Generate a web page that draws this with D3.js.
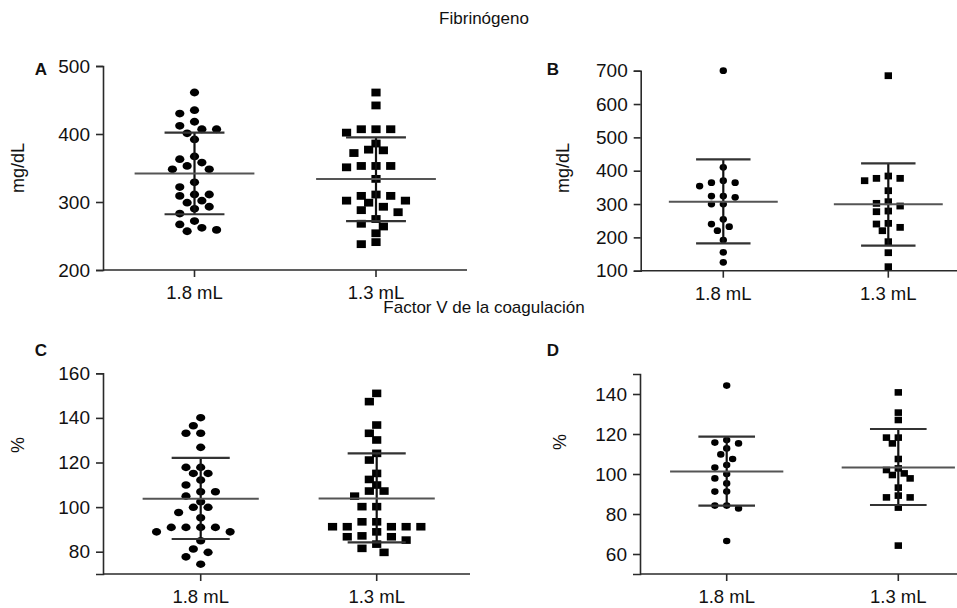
<!DOCTYPE html>
<html><head><meta charset="utf-8">
<script src="https://cdn.jsdelivr.net/npm/d3@7"></script>
<style>
body{margin:0;background:#fff;}
svg{display:block;}
text{font-family:"Liberation Sans",Arial,sans-serif;fill:#111;}
</style></head><body>
<svg id="c" width="957" height="608"></svg>
<script>
// ---------- data ----------
const categories = ["1.8 mL", "1.3 mL"];
const sectionTitles = ["Fibrinógeno", "Factor V de la coagulación"];
const panelLetters = ["A", "B", "C", "D"];
const yLabels = ["mg/dL", "mg/dL", "%", "%"];

const ticksA = [200, 300, 400, 500];
const ticksB = [100, 200, 300, 400, 500, 600, 700];
const ticksC = [80, 100, 120, 140, 160];
const ticksD = [60, 80, 100, 120, 140];

const fibA_18 = [461,430,435,418,407,412,407,401,392,363,367,353,358,348,348,329,322,311,309,311,299,302,290,293,283,272,267,262,257,259];
const fibA_13 = [461,442,407,407,402,407,386,372,377,376,353,351,353,353,334,302,309,309,311,299,302,293,285,288,275,268,254,264,238,241];
const fibB_18 = [700,410,364,354,364,370,324,320,324,300,300,254,240,220,232,192,155,125];
const fibB_13 = [685,377,384,370,377,340,302,279,277,294,307,240,220,230,242,187,154,112];
const fvC_18 = [140.1,136.5,133.1,133.1,126.8,117.8,117.8,115.1,115.1,112.1,109.9,106.9,106.9,104.9,102.4,99.9,99.9,97.6,95.2,90.9,90.9,90.9,90.9,88.9,88.9,84.9,79.7,81.2,77.7,74.4];
const fvC_13 = [151.0,147.3,136.8,133.1,130.1,124.1,121.1,115.1,112.4,109.9,107.2,107.2,104.9,100.2,100.2,93.4,93.4,91.2,91.2,91.2,91.2,91.2,88.9,87.1,86.7,86.7,83.4,85.2,81.5,79.7];
const fvD_18 = [144.2,117,115.7,112.8,115.3,109.8,107.5,104.5,103.2,100,97.8,95.3,91.2,91.2,84.2,82.8,84.2,66.5];
const fvD_13 = [140.8,130.7,127,118.2,118.2,115.3,107.5,102.8,102,100.3,97.8,99.5,93.2,89.2,88.3,88.3,83.2,64.2];

// mean and mean±SD lines  [1.8 mL, 1.3 mL]
const meanA = [342, 334], upperA = [402, 395], lowerA = [282, 272];
const meanB = [307, 299], upperB = [434, 422], lowerB = [182, 175];
const meanC = [103.7, 103.9], upperC = [122.1, 124.1], lowerC = [85.7, 84.2];
const meanD = [101.2, 103.3], upperD = [118.7, 122.5], lowerD = [84.2, 84.5];

// ---------- layout ----------
const panels = [
  {letter:0, ylab:0, groups:[fibA_18, fibA_13], mean:meanA, up:upperA, lo:lowerA, ticks:ticksA,
   yDomain:[200,500], yRange:[270,66], xAxis:[103,467], xPos:[194.5,376], r:[4.6,3.9],
   letterPos:[41,75], ylabPos:[18,168]},
  {letter:1, ylab:1, groups:[fibB_18, fibB_13], mean:meanB, up:upperB, lo:lowerB, ticks:ticksB,
   yDomain:[100,700], yRange:[270.7,70.7], xAxis:[640.7,957], xPos:[723.3,888.3], r:[3.7,3.4],
   letterPos:[553,75], ylabPos:[563,168]},
  {letter:2, ylab:2, groups:[fvC_18, fvC_13], mean:meanC, up:upperC, lo:lowerC, ticks:ticksC,
   yDomain:[70,160], yRange:[574,373.3], xAxis:[103,470], xPos:[200.7,376.7], r:[4.6,3.8],
   letterPos:[41,356], ylabPos:[18,445]},
  {letter:3, ylab:3, groups:[fvD_18, fvD_13], mean:meanD, up:upperD, lo:lowerD, ticks:ticksD,
   yDomain:[50,150], yRange:[574,374], xAxis:[640,957], xPos:[726.7,898.3], r:[3.7,3.3],
   letterPos:[553,356], ylabPos:[560,442]}
];

const svg = d3.select("#c");
const axisColor = "#2a2a2a";

// section titles
svg.append("text").attr("x", 484).attr("y", 24).attr("text-anchor","middle")
  .style("font-size","17px").text(sectionTitles[0]);
svg.append("text").attr("x", 484).attr("y", 313).attr("text-anchor","middle")
  .style("font-size","17px").text(sectionTitles[1]);

// simple beeswarm layout: greedy placement by value
function swarm(values, y, rx, ry) {
  const order = values.map((v,i)=>i).sort((a,b)=>values[b]-values[a]);
  const placed = [];
  const out = new Array(values.length);
  const step = rx * 1.6;
  for (const i of order) {
    const py = y(values[i]);
    let chosen = 0;
    for (let k = 0; k < 40; k++) {
      const cands = k === 0 ? [0] : [-k*step, k*step];
      let ok = null;
      for (const dx of cands) {
        const hit = placed.some(p => {
          const ddx = (p.dx - dx) / (2*rx*1.05), ddy = (p.py - py) / (2*ry*1.1);
          return ddx*ddx + ddy*ddy < 1;
        });
        if (!hit) { ok = dx; break; }
      }
      if (ok !== null) { chosen = ok; break; }
    }
    placed.push({dx:chosen, py});
    out[i] = {dx:chosen, py};
  }
  return out;
}

panels.forEach(p => {
  const g = svg.append("g");
  const y = d3.scaleLinear().domain(p.yDomain).range(p.yRange);
  const x = d3.scaleOrdinal().domain(categories).range(p.xPos);
  const step = p.xPos[1] - p.xPos[0];

  // y axis
  const yAxis = d3.axisLeft(y).tickValues(p.ticks).tickSize(7).tickPadding(6).tickFormat(d3.format("d"));
  const ya = g.append("g").attr("transform", `translate(${p.xAxis[0]},0)`).call(yAxis);
  ya.select(".domain").attr("stroke", axisColor).attr("stroke-width", 1.6);
  ya.selectAll(".tick line").attr("stroke", axisColor).attr("stroke-width", 1.6);
  ya.selectAll(".tick text").style("font-size","19px").attr("fill","#111")
    .style("font-family",'"Liberation Sans",Arial,sans-serif');

  // x axis line + ticks
  const yBase = p.yRange[0];
  g.append("line").attr("x1", p.xAxis[0]).attr("x2", p.xAxis[1]).attr("y1", yBase).attr("y2", yBase)
    .attr("stroke", axisColor).attr("stroke-width", 1.6);
  categories.forEach(c => {
    g.append("line").attr("x1", x(c)).attr("x2", x(c)).attr("y1", yBase).attr("y2", yBase + 7)
      .attr("stroke", axisColor).attr("stroke-width", 1.6);
    g.append("text").attr("x", x(c)).attr("y", yBase + 29).attr("text-anchor","middle")
      .style("font-size","18.5px").text(c);
  });

  // panel letter
  svg.append("text").attr("x", p.letterPos[0]).attr("y", p.letterPos[1]).attr("text-anchor","middle")
    .style("font-size","17px").style("font-weight","bold").text(panelLetters[p.letter]);
  // y label
  svg.append("text").attr("transform", `translate(${p.ylabPos[0]},${p.ylabPos[1]}) rotate(-90)`)
    .attr("text-anchor","middle").attr("dy","0.35em").style("font-size","18px").text(yLabels[p.ylab]);

  // points
  const [rx, ry] = p.r;
  p.groups.forEach((vals, gi) => {
    const cx = x(categories[gi]);
    const pos = swarm(vals, y, rx, ry);
    const sel = g.append("g").selectAll(gi === 0 ? "ellipse" : "rect").data(vals).join(gi === 0 ? "ellipse" : "rect");
    if (gi === 0) {
      sel.attr("cx", (d,i)=>cx + pos[i].dx).attr("cy", (d,i)=>pos[i].py).attr("rx", rx).attr("ry", ry).attr("fill","#000");
    } else {
      sel.attr("x", (d,i)=>cx + pos[i].dx - rx).attr("y", (d,i)=>pos[i].py - ry)
        .attr("width", 2*rx).attr("height", 2*ry).attr("fill","#000");
    }
    // mean and SD
    const mw = step * 0.33, cw = step * 0.165;
    g.append("line").attr("x1", cx).attr("x2", cx).attr("y1", y(p.up[gi])).attr("y2", y(p.lo[gi]))
      .attr("stroke","#111").attr("stroke-width", 2.2);
    g.append("line").attr("x1", cx - mw).attr("x2", cx + mw).attr("y1", y(p.mean[gi])).attr("y2", y(p.mean[gi]))
      .attr("stroke","#555").attr("stroke-width", 2);
    [p.up[gi], p.lo[gi]].forEach(v => {
      g.append("line").attr("x1", cx - cw).attr("x2", cx + cw).attr("y1", y(v)).attr("y2", y(v))
        .attr("stroke","#333").attr("stroke-width", 2.2);
    });
  });
});
</script></body></html>
